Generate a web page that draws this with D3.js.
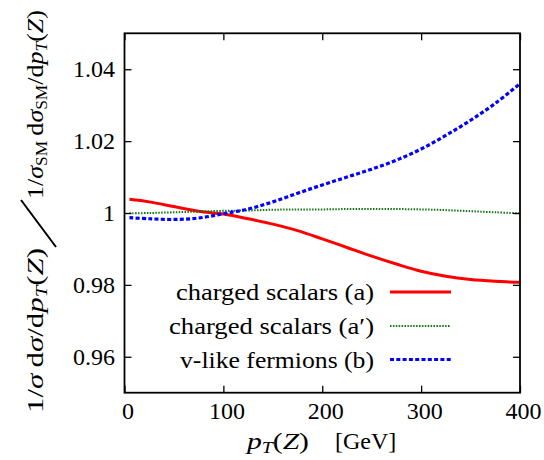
<!DOCTYPE html>
<html><head><meta charset="utf-8">
<script src="https://cdn.jsdelivr.net/npm/d3@7"></script>
<style>body{margin:0;background:#fff}svg{display:block;font-family:"Liberation Serif","Times New Roman",serif}</style>
</head><body>
<script>
const pT      = [5, 25, 50, 75, 100, 125, 150, 175, 200, 225, 250, 275, 300, 325, 350, 375, 400];
const scalarA = [1.0038, 1.0031, 1.0018, 1.0005, 0.9997, 0.9984, 0.9969, 0.9951, 0.9928, 0.9904, 0.9880, 0.9858, 0.9838, 0.9824, 0.9815, 0.9810, 0.9807];
const scalarAp= [0.9999, 1.0000, 1.0002, 1.0004, 1.0006, 1.0007, 1.0009, 1.0010, 1.0010, 1.0011, 1.0011, 1.0011, 1.0010, 1.0008, 1.0005, 1.0002, 0.9999];
const fermB   = [0.9987, 0.9984, 0.9982, 0.9986, 0.9998, 1.0011, 1.0031, 1.0055, 1.0078, 1.0100, 1.0122, 1.0147, 1.0178, 1.0216, 1.0258, 1.0305, 1.0360];
const xTicks = [0, 100, 200, 300, 400];
const yTicks = [0.96, 0.98, 1.00, 1.02, 1.04];
const yTickLabels = ["0.96", "0.98", "1", "1.02", "1.04"];
const seriesNames = ["charged scalars (a)", "charged scalars (a\u2032)", "v-like fermions (b)"];

const W = 544, H = 460;
const L = 124.5, R = 520, T = 33.3, B = 392.7;
const FONT = "'Liberation Serif', 'Times New Roman', serif";
const FS = 24;
const svg = d3.select("body").append("svg").attr("width", W).attr("height", H);

const x = d3.scaleLinear().domain([0, 400]).range([L, R]);
const y = d3.scaleLinear().domain([0.95, 1.05]).range([B, T]);

const series = [
  {name: seriesNames[0], vals: scalarA,  color: "#ff0000", w: 3,   dash: null,      len: 198},
  {name: seriesNames[1], vals: scalarAp, color: "#137713", w: 2,   dash: "1.5,1.4", len: 205},
  {name: seriesNames[2], vals: fermB,    color: "#0000ff", w: 3.2, dash: "4,2.3",   len: 194}
];

const line = d3.line().x(d => x(d[0])).y(d => y(d[1])).curve(d3.curveCatmullRom.alpha(0.5));
const plot = svg.append("g");
series.forEach(s => {
  plot.append("path").datum(pT.map((p, i) => [p, s.vals[i]]))
    .attr("d", line).attr("fill", "none").attr("stroke", s.color)
    .attr("stroke-width", s.w).attr("stroke-dasharray", s.dash);
});

// axes (ticks inward, mirrored)
const tl = 7;
const axB = svg.append("g").attr("transform", `translate(0,${B})`)
  .call(d3.axisBottom(x).tickValues(xTicks).tickSize(-tl).tickFormat(""));
const axT = svg.append("g").attr("transform", `translate(0,${T})`)
  .call(d3.axisTop(x).tickValues(xTicks).tickSize(-tl).tickFormat(""));
const axL = svg.append("g").attr("transform", `translate(${L},0)`)
  .call(d3.axisLeft(y).tickValues(yTicks).tickSize(-tl).tickFormat(""));
const axR = svg.append("g").attr("transform", `translate(${R},0)`)
  .call(d3.axisRight(y).tickValues(yTicks).tickSize(-tl).tickFormat(""));
[axB, axT, axL, axR].forEach(a => {
  a.select(".domain").remove();
  a.selectAll("line").attr("stroke", "#000").attr("stroke-width", 1.3);
});
svg.append("rect").attr("x", L).attr("y", T).attr("width", R - L).attr("height", B - T)
  .attr("fill", "none").attr("stroke", "#000").attr("stroke-width", 1.8);

// tick labels
svg.append("g").selectAll("text").data(xTicks).join("text")
  .attr("x", d => x(d) + 3.5).attr("y", 418.5).attr("text-anchor", "middle")
  .attr("font-family", FONT).attr("font-size", FS).text(d => d);
svg.append("g").selectAll("text").data(yTicks).join("text")
  .attr("x", 115).attr("y", d => y(d) + 8).attr("text-anchor", "end")
  .attr("font-family", FONT).attr("font-size", FS).text((d, i) => yTickLabels[i]);

// x title
const xt = svg.append("text").attr("x", 247).attr("y", 448.5)
  .attr("font-family", FONT).attr("font-size", FS)
  .attr("textLength", 62).attr("lengthAdjust", "spacingAndGlyphs");
xt.append("tspan").attr("font-style", "italic").text("p");
xt.append("tspan").attr("font-style", "italic").attr("font-size", 16).attr("dy", 4).text("T");
xt.append("tspan").attr("dy", -4).text("(");
xt.append("tspan").attr("font-style", "italic").text("Z");
xt.append("tspan").text(")");
svg.append("text").attr("x", 335).attr("y", 448.5)
  .attr("font-family", FONT).attr("font-size", FS).text("[GeV]");

// y title (rotated)
const yg = svg.append("g").attr("transform", "translate(43,0) rotate(-90)")
  .attr("font-family", FONT).attr("font-size", FS);
function addPart(tx, len, sub) {
  const t = yg.append("text").attr("x", tx).attr("y", 0)
    .attr("textLength", len).attr("lengthAdjust", "spacingAndGlyphs");
  t.append("tspan").text("1/");
  t.append("tspan").attr("font-style", "italic").text("\u03c3");
  if (sub) t.append("tspan").attr("font-size", 16).attr("dy", 4).text("SM");
  t.append("tspan").attr("dy", sub ? -4 : 0).text("\u2009d");
  t.append("tspan").attr("font-style", "italic").text("\u03c3");
  if (sub) t.append("tspan").attr("font-size", 16).attr("dy", 4).text("SM");
  t.append("tspan").attr("dy", sub ? -4 : 0).text("/d");
  t.append("tspan").attr("font-style", "italic").text("p");
  t.append("tspan").attr("font-style", "italic").attr("font-size", 16).attr("dy", 4).text("T");
  t.append("tspan").attr("dy", -4).text("(");
  t.append("tspan").attr("font-style", "italic").text("Z");
  t.append("tspan").text(")");
}
addPart(-413, 165, false);
addPart(-199, 189, true);
// big delimiter slash between numerator and denominator
svg.append("path").attr("d", "M56,247 L21,200").attr("stroke", "#000")
  .attr("stroke-width", 2).attr("fill", "none");

// legend
const legY = [292, 326, 359.5];
series.forEach((s, i) => {
  svg.append("text").attr("x", 374).attr("y", legY[i] + 8).attr("text-anchor", "end")
    .attr("font-family", FONT).attr("font-size", FS)
    .attr("textLength", s.len).attr("lengthAdjust", "spacingAndGlyphs").text(s.name);
  svg.append("line").attr("x1", 390).attr("x2", 451).attr("y1", legY[i]).attr("y2", legY[i])
    .attr("stroke", s.color).attr("stroke-width", s.w).attr("stroke-dasharray", s.dash);
});
</script>
</body></html>
